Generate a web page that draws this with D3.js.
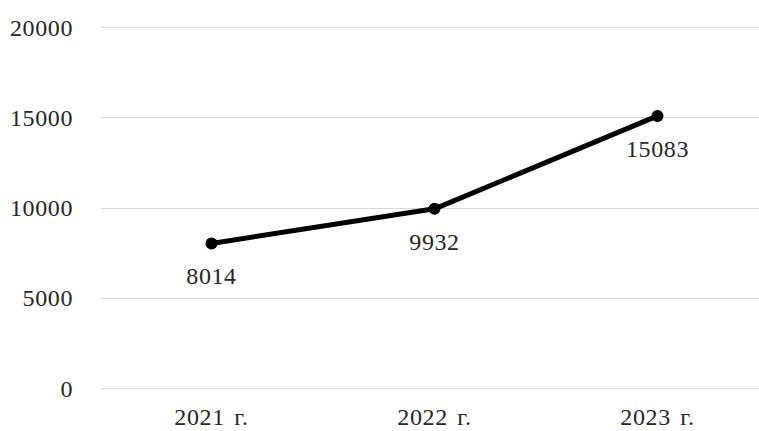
<!DOCTYPE html>
<html>
<head>
<meta charset="utf-8">
<script src="https://cdn.jsdelivr.net/npm/d3@7"></script>
<style>
  body { margin: 0; background: #fff; }
  svg { display: block; }
  text { font-family: "Liberation Serif", "Times New Roman", serif; fill: #262626; letter-spacing: 0.6px; }
</style>
</head>
<body>
<svg id="chart" width="759" height="431"></svg>
<script>
// chart data
var years = ['2021 г.', '2022 г.', '2023 г.'];
var values = [8014, 9932, 15083];
var yTicks = [0, 5000, 10000, 15000, 20000];

var svg = d3.select('#chart');
var W = 759, H = 431;

var x = d3.scaleBand().domain(years).range([100, 769]);
var y = d3.scaleLinear().domain([0, 20000]).range([388, 27.2]);

// gridlines
svg.append('g')
    .selectAll('line')
    .data(yTicks)
    .enter().append('line')
    .attr('x1', 101)
    .attr('x2', W)
    .attr('y1', function(d) { return Math.round(y(d)) + 0.5; })
    .attr('y2', function(d) { return Math.round(y(d)) + 0.5; })
    .attr('stroke', '#d9d9d9')
    .attr('stroke-width', 1.2);

// y tick labels
svg.append('g')
    .selectAll('text')
    .data(yTicks)
    .enter().append('text')
    .attr('x', 73)
    .attr('y', function(d) { return y(d) + 8.5; })
    .attr('text-anchor', 'end')
    .style('font-size', '24px')
    .text(function(d) { return d; });

// x labels
svg.append('g')
    .selectAll('text')
    .data(years)
    .enter().append('text')
    .attr('x', function(d) { return x(d) + x.bandwidth() / 2; })
    .attr('y', 425)
    .attr('text-anchor', 'middle')
    .style('font-size', '24px')
    .style('word-spacing', '3px')
    .text(function(d) { return d; });

var pts = years.map(function(d, i) { return {year: d, v: values[i]}; });
var cx = function(d) { return x(d.year) + x.bandwidth() / 2; };

var line = d3.line()
    .x(cx)
    .y(function(d) { return y(d.v); });

svg.append('path')
    .datum(pts)
    .attr('d', line)
    .attr('fill', 'none')
    .attr('stroke', '#000')
    .attr('stroke-width', 5)
    .attr('stroke-linejoin', 'round');

svg.append('g')
    .selectAll('circle')
    .data(pts)
    .enter().append('circle')
    .attr('cx', cx)
    .attr('cy', function(d) { return y(d.v); })
    .attr('r', 6)
    .attr('fill', '#000');

// value labels
svg.append('g')
    .selectAll('text')
    .data(pts)
    .enter().append('text')
    .attr('x', cx)
    .attr('y', function(d) { return y(d.v) + 41; })
    .attr('text-anchor', 'middle')
    .style('font-size', '24px')
    .text(function(d) { return d.v; });
</script>
</body>
</html>
